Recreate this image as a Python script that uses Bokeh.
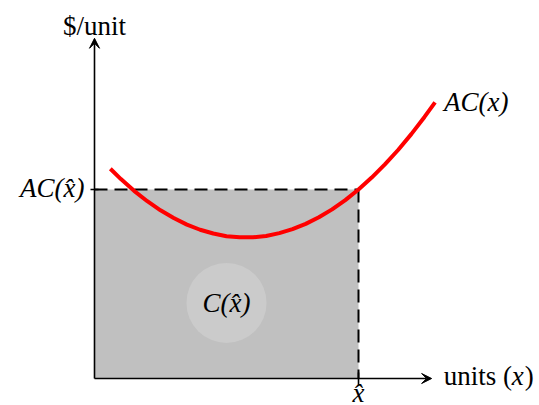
from bokeh.plotting import figure
from bokeh.models import Range1d, Arrow, VeeHead
from bokeh.core.properties import value
from bokeh.embed import file_html
from bokeh.resources import INLINE
import math

# ---- data ----
x_hat = 10.0          # chosen output level
ac_hat = 10.0         # average cost at x_hat
curve_x = [0.6, 1.0, 1.5, 2.0, 2.5, 3.0, 3.5, 4.0, 4.5, 5.0, 5.5, 6.0, 6.5, 7.0,
           7.5, 8.0, 8.5, 9.0, 9.5, 10.0, 10.5, 11.0, 11.5, 12.0, 12.5, 12.9]
curve_y = [11.10, 10.55, 9.93, 9.38, 8.90, 8.49, 8.14, 7.87, 7.67, 7.53, 7.47, 7.47,
           7.54, 7.69, 7.90, 8.18, 8.53, 8.95, 9.44, 10.00, 10.63, 11.33, 12.09,
           12.93, 13.84, 14.61]
y_axis_top = 18.0
x_axis_right = 12.77
area_label_x = [5.0]
area_label_y = [4.0]

# labels
y_axis_label = "$/unit"
x_axis_label_parts = ["units (", "x", ")"]
curve_label = "AC(x)"
tick_y_label = "AC(x\u0302)"
tick_x_label = "x\u0302"
area_label = "C(x\u0302)"

FONT = value("Liberation Serif")
FS = "27px"

W, H = 539, 405
OX, OY = 94, 378        # pixel position of the origin
SX, SY = 26.4, 18.9     # pixels per data unit
p = figure(width=W, height=H, output_backend="svg", toolbar_location=None,
           x_range=Range1d(-OX / SX, (W - OX) / SX),
           y_range=Range1d(-(H - OY) / SY, OY / SY),
           min_border=0, outline_line_color=None)
p.axis.visible = False
p.grid.visible = False
p.background_fill_color = "white"

# shaded total-cost rectangle
p.quad(left=[0], right=[x_hat], bottom=[0], top=[ac_hat],
       fill_color="#c0c0c0", line_color=None)
p.scatter(x=area_label_x, y=area_label_y, size=80, marker="circle",
          fill_color="#cbcbcb", line_color=None)

# dashed guides
p.line([0, x_hat], [ac_hat, ac_hat], line_color="black", line_width=2, line_dash="13 7")
p.line([x_hat, x_hat], [ac_hat, 0], line_color="black", line_width=2, line_dash="13 7")

# ticks
p.scatter(x=[0], y=[ac_hat], marker="dash", size=8, line_color="black", line_width=1.6)
p.scatter(x=[x_hat], y=[0], marker="dash", size=12, angle=math.pi / 2,
          line_color="black", line_width=1.6)

# axes with arrows
p.add_layout(Arrow(end=VeeHead(size=10, fill_color="black", line_color="black", line_width=1),
                   x_start=0, y_start=0, x_end=0, y_end=y_axis_top,
                   line_color="black", line_width=1.6))
p.add_layout(Arrow(end=VeeHead(size=10, fill_color="black", line_color="black", line_width=1),
                   x_start=0, y_start=0, x_end=x_axis_right, y_end=0,
                   line_color="black", line_width=1.6))

# average cost curve
p.line(curve_x, curve_y, line_color="#ff0000", line_width=4, line_join="round")

# texts
p.text(x=[0], y=[y_axis_top], text=[y_axis_label], text_font=FONT, text_font_size=FS,
       text_align="center", text_baseline="alphabetic", y_offset=-12, text_color="black")
for part, dx, style in zip(x_axis_label_parts, [12, 80, 93], ["normal", "italic", "normal"]):
    p.text(x=[x_axis_right], y=[0], text=[part], text_font=FONT, text_font_size=FS,
           text_font_style=style, text_align="left", text_baseline="middle",
           x_offset=dx, y_offset=-3, text_color="black")
p.text(x=[curve_x[-1]], y=[curve_y[-1]], text=[curve_label], text_font=FONT, text_font_size=FS,
       text_font_style="italic", text_align="left", text_baseline="middle",
       x_offset=9, y_offset=0, text_color="black")
p.text(x=[0], y=[ac_hat], text=[tick_y_label], text_font=FONT, text_font_size=FS,
       text_font_style="italic", text_align="right", text_baseline="middle",
       x_offset=-10, y_offset=-2, text_color="black")
p.text(x=[x_hat], y=[0], text=[tick_x_label], text_font=FONT, text_font_size=FS,
       text_font_style="italic", text_align="center", text_baseline="middle",
       y_offset=14, text_color="black")
p.text(x=area_label_x, y=area_label_y, text=[area_label], text_font=FONT, text_font_size=FS,
       text_font_style="italic", text_align="center", text_baseline="middle",
       text_color="black")

open("out.html", "w").write(file_html(p, INLINE))
